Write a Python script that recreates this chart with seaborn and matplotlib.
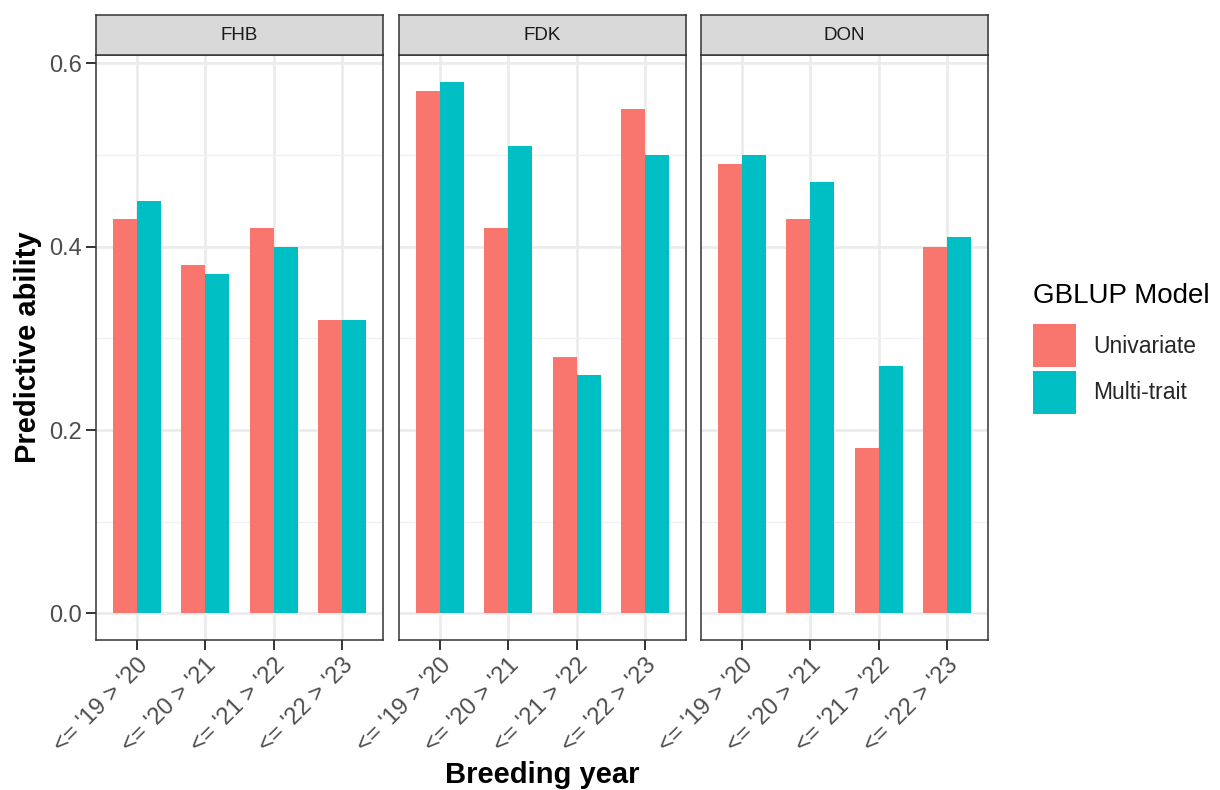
import matplotlib
matplotlib.use("Agg")
import matplotlib.pyplot as plt
import seaborn as sns
import pandas as pd

# Dados
traits = ["FHB", "FDK", "DON"]
years = ["<= '19 > '20", "<= '20 > '21", "<= '21 > '22", "<= '22 > '23"]
models = ["Univariate", "Multi-trait"]

fhb_uni = [0.43, 0.38, 0.42, 0.32]
fhb_multi = [0.45, 0.37, 0.40, 0.32]
fdk_uni = [0.57, 0.42, 0.28, 0.55]
fdk_multi = [0.58, 0.51, 0.26, 0.50]
don_uni = [0.49, 0.43, 0.18, 0.40]
don_multi = [0.50, 0.47, 0.27, 0.41]

valores = {
    "FHB": (fhb_uni, fhb_multi),
    "FDK": (fdk_uni, fdk_multi),
    "DON": (don_uni, don_multi),
}

linhas = []
for t in traits:
    for m, serie in zip(models, valores[t]):
        for y, v in zip(years, serie):
            linhas.append({"trait": t, "year": y, "model": m, "ability": v})
df = pd.DataFrame(linhas)

cores = {"Univariate": "#F8766D", "Multi-trait": "#00BFC4"}

sns.set_theme(style="white")
plt.rcParams["font.family"] = ["Liberation Sans", "DejaVu Sans"]

W, H = 1220, 790
fig = plt.figure(figsize=(12.2, 7.9), dpi=100)

esquerdas = [96, 399, 701]
largura = 287
topo, base = 55, 640
strip_topo = 15
cinza20 = "#333333"

axes = []
for i, t in enumerate(traits):
    ax = fig.add_axes([esquerdas[i] / W, 1 - base / H, largura / W, (base - topo) / H])
    sub = df[df["trait"] == t]
    sns.barplot(data=sub, x="year", y="ability", hue="model", order=years,
                hue_order=models, palette=cores, width=0.7, gap=0,
                saturation=1, linewidth=0, ax=ax, legend=(i == 0))
    ax.set_xlim(-0.6, 3.6)
    ax.set_ylim(-0.029, 0.609)
    ax.set_yticks([0.0, 0.2, 0.4, 0.6])
    ax.set_yticks([0.1, 0.3, 0.5], minor=True)
    ax.set_axisbelow(True)
    ax.grid(which="major", color="#EBEBEB", lw=1.9)
    ax.grid(which="minor", axis="y", color="#F0F0F0", lw=1.0)
    ax.set_xlabel("")
    ax.set_ylabel("")
    for s in ax.spines.values():
        s.set_color(cinza20)
        s.set_linewidth(1.1)
    ax.tick_params(axis="x", which="major", bottom=True, length=7, width=1.4,
                   color=cinza20, labelsize=17, labelcolor="#4D4D4D", pad=3)
    ax.tick_params(axis="y", which="minor", left=False, length=0)
    if i == 0:
        ax.set_yticklabels(["0.0", "0.2", "0.4", "0.6"])
        ax.tick_params(axis="y", which="major", left=True, length=7, width=1.4,
                       color=cinza20, labelsize=17, labelcolor="#4D4D4D", pad=3)
    else:
        ax.tick_params(axis="y", which="major", left=False, labelleft=False)
    for lab in ax.get_xticklabels():
        lab.set_rotation(45)
        lab.set_ha("right")
        lab.set_va("top")
        lab.set_rotation_mode("anchor")

    # faixa do título do painel
    sax = fig.add_axes([esquerdas[i] / W, 1 - topo / H, largura / W, (topo - strip_topo) / H])
    sax.set_facecolor("#D9D9D9")
    sax.set_xticks([])
    sax.set_yticks([])
    for s in sax.spines.values():
        s.set_color(cinza20)
        s.set_linewidth(1.1)
    sax.text(0.5, 0.5, t, ha="center", va="center", fontsize=13.5, color="#1A1A1A",
             transform=sax.transAxes)
    axes.append(ax)

handles, labels = axes[0].get_legend_handles_labels()
axes[0].get_legend().remove()
fig.legend(handles, labels, loc="upper left",
           bbox_to_anchor=(1033 / W, 1 - 324 / H), frameon=False,
           fontsize=16.5, handlelength=1.88, handleheight=2.515,
           labelspacing=0.17, handletextpad=0.75,
           borderpad=0, borderaxespad=0)
fig.text(1033 / W, 1 - 296 / H, "GBLUP Model", ha="left", va="center",
         fontsize=20, color="black")

fig.text((96 + 988) / 2 / W, 1 - 775 / H, "Breeding year", ha="center", va="center",
         fontsize=21, fontweight="bold", color="black")
fig.text(28 / W, 1 - (topo + base) / 2 / H, "Predictive ability", ha="center", va="center",
         rotation=90, fontsize=21, fontweight="bold", color="black")

fig.savefig("out.png", dpi=100, facecolor="white")
